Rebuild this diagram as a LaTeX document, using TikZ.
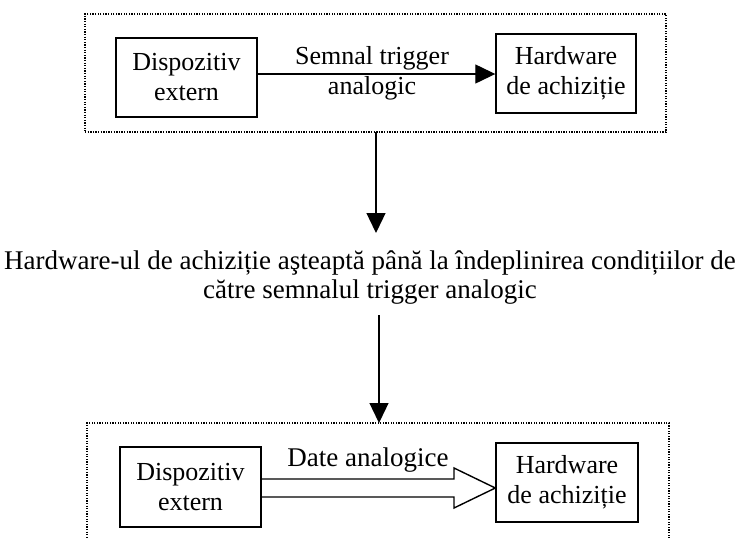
\documentclass[tikz,border=0pt]{standalone}
\usepackage{fontspec}
\setmainfont{Liberation Serif}
\usetikzlibrary{arrows.meta,calc}
\begin{document}
\begin{tikzpicture}[x=1pt,y=-1pt,
  every node/.style={font=\fontsize{26}{30}\selectfont, align=center, inner sep=0pt},
  unit/.style={draw, line width=1.4pt},
  frame/.style={draw, line width=1.3pt, dash pattern=on 1.3pt off 1.3pt},
  link/.style={line width=1.3pt, -{Triangle[length=20pt,width=19pt]}},
  hollow/.style={draw, line width=1.4pt, line join=miter}]
\useasboundingbox (0,0) rectangle (739,538);
\clip (0,0) rectangle (739,538);

% upper stage: trigger signal
\node[frame, minimum width=581pt, minimum height=118pt] (f1) at (375.5,73) {};
\node[unit, minimum width=141pt, minimum height=79pt] (d1) at (186.5,77.5) {Dispozitiv\\extern};
\node[unit, minimum width=140pt, minimum height=79pt] (h1) at (566,73.5) {Hardware\\de achiziție};
\coordinate (s1) at (d1.east |- 0,74);
\draw[link] (s1) -- (s1 -| h1.west);
\node at (372,73) {Semnal trigger\\analogic};

% waiting condition
\coordinate (a1) at (376,132);
\node[font=\fontsize{27}{29}\selectfont] (wait) at (370,278) {Hardware-ul de achiziție aşteaptă până la îndeplinirea condițiilor de\\către semnalul trigger analogic};
\coordinate (a1end) at (376,233);
\draw[link] (a1) -- (a1end);
\coordinate (a2) at (379,315);
\coordinate (a2end) at (379,423);
\draw[link] (a2) -- (a2end);

% lower stage: analog data
\node[frame, minimum width=582pt, minimum height=160pt] (f2) at (378,503) {};
\node[unit, minimum width=141pt, minimum height=80pt] (d2) at (190.5,487) {Dispozitiv\\extern};
\node[unit, minimum width=142pt, minimum height=79pt] (h2) at (567,482.5) {Hardware\\de achiziție};
\coordinate (tip) at (h2.west |- 0,488);
\draw[hollow] (d2.east |- 0,479) -- (454,479) -- (454,468) -- (tip)
  -- (454,508) -- (454,497) -- (d2.east |- 0,497);
\node[font=\fontsize{27}{30}\selectfont] at (368,460) {Date analogice};
\end{tikzpicture}
\end{document}
